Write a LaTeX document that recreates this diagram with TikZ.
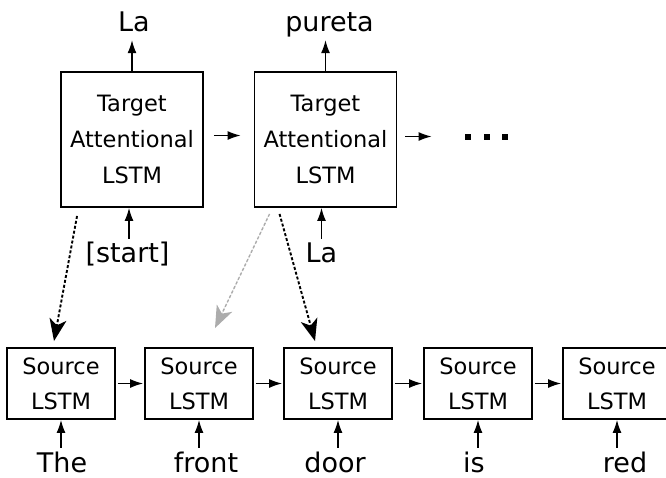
\documentclass[tikz,border=0pt]{standalone}
\usepackage{fontspec}
\setmainfont{DejaVu Sans}
\usetikzlibrary{arrows.meta}

\tikzset{
  tgtbox/.style={draw, line width=1.9pt, minimum width=142pt, minimum height=135pt,
    align=center, inner sep=0pt, font=\fontsize{22.5}{36}\selectfont},
  srcbox/.style={draw, line width=1.9pt, minimum width=108pt, minimum height=71pt,
    align=center, inner sep=0pt, font=\fontsize{22.5}{35}\selectfont},
  word/.style={anchor=base, inner sep=0pt, text height=20pt, text depth=6pt,
    font=\fontsize{27}{30}\selectfont},
  flow/.style={line width=1.2pt, arrows={-Latex[length=13pt 0, width=9pt 0]}},
  attn/.style={dash pattern=on 3pt off 2pt, line width=1.9pt,
    arrows={-Stealth[length=22pt 0, width=17pt 0, inset=6pt 0]}},
  softattn/.style={attn, draw=gray!65, line width=1.4pt, fill=gray!65},
  dotmark/.style={fill, inner sep=0pt, minimum size=6.5pt}
}

\begin{document}
\begin{tikzpicture}
\begin{scope}[x=1pt,y=-1pt]
\useasboundingbox (0,0) rectangle (666,477);

% decoder (target) cells
\node[tgtbox] (t1) at (132,139.5) {Target\\Attentional\\LSTM};
\node[tgtbox] (t2) at (325.5,139.5) {Target\\Attentional\\LSTM};

% continuation dots
\node[dotmark] (d1) at (468,137) {};
\node[dotmark] (d2) at (487,137) {};
\node[dotmark] (d3) at (505,137) {};

% encoder (source) cells
\node[srcbox] (s1) at (61,383.5)  {Source\\LSTM};
\node[srcbox] (s2) at (199,383.5) {Source\\LSTM};
\node[srcbox] (s3) at (338,383.5) {Source\\LSTM};
\node[srcbox] (s4) at (478,383.5) {Source\\LSTM};
\node[srcbox] (s5) at (617,383.5) {Source\\LSTM};

% decoder outputs
\node[word] (o1) at (134,31) {La};
\node[word] (o2) at (329.5,31) {pureta};

% decoder inputs
\node[word] (i1) at (127.5,262) {[start]};
\node[word] (i2) at (321.5,262) {La};

% source words
\node[word] (w1) at (62,472)  {The};
\node[word] (w2) at (206,472) {front};
\node[word] (w3) at (335,472) {door};
\node[word] (w4) at (474,472) {is};
\node[word] (w5) at (625,472) {red};
\end{scope}

% decoder recurrence
\draw[flow, shorten <=10pt, shorten >=13pt] ([yshift=4pt]t1.east) -- ([yshift=4pt]t2.west);
\draw[flow, shorten <=8pt, shorten >=33pt] ([yshift=3pt]t2.east) -- ([yshift=3pt]t2.east -| d1.west);

% decoder outputs and inputs
\draw[flow, shorten >=3pt] (t1.north) -- (t1.north |- o1.south);
\draw[flow, shorten >=3pt] (t2.north) -- (t2.north |- o2.south);
\draw[flow] ([xshift=1.5pt,yshift=3pt]i1.north) -- ([xshift=1.5pt]i1.north |- t1.south);
\draw[flow] ([yshift=3pt]i2.north) -- (i2.north |- t2.south);

% encoder recurrence
\draw[flow, shorten <=2pt, shorten >=1pt] (s1.east) -- (s2.west);
\draw[flow, shorten <=2pt, shorten >=1pt] (s2.east) -- (s3.west);
\draw[flow, shorten <=2pt, shorten >=1pt] (s3.east) -- (s4.west);
\draw[flow, shorten <=2pt, shorten >=1pt] (s4.east) -- (s5.west);

% source word inputs
\draw[flow] ([yshift=4pt]w1.north -| s1.south) -- (s1.south);
\draw[flow] ([yshift=4pt]w2.north -| s2.south) -- (s2.south);
\draw[flow] ([yshift=4pt]w3.north -| s3.south) -- (s3.south);
\draw[flow] ([yshift=4pt]w4.north -| s4.south) -- (s4.south);
\draw[flow] ([yshift=4pt]w5.north -| s5.south) -- (s5.south);

% attention links
\draw[attn] ([xshift=17pt,yshift=-8pt]t1.south west) -- ([xshift=-7pt,yshift=6pt]s1.north);
\draw[softattn] ([xshift=16pt,yshift=-6pt]t2.south west) -- ([xshift=16pt,yshift=19pt]s2.north);
\draw[attn] ([xshift=26pt,yshift=-6pt]t2.south west) -- ([xshift=-23pt,yshift=6pt]s3.north);
\end{tikzpicture}
\end{document}
